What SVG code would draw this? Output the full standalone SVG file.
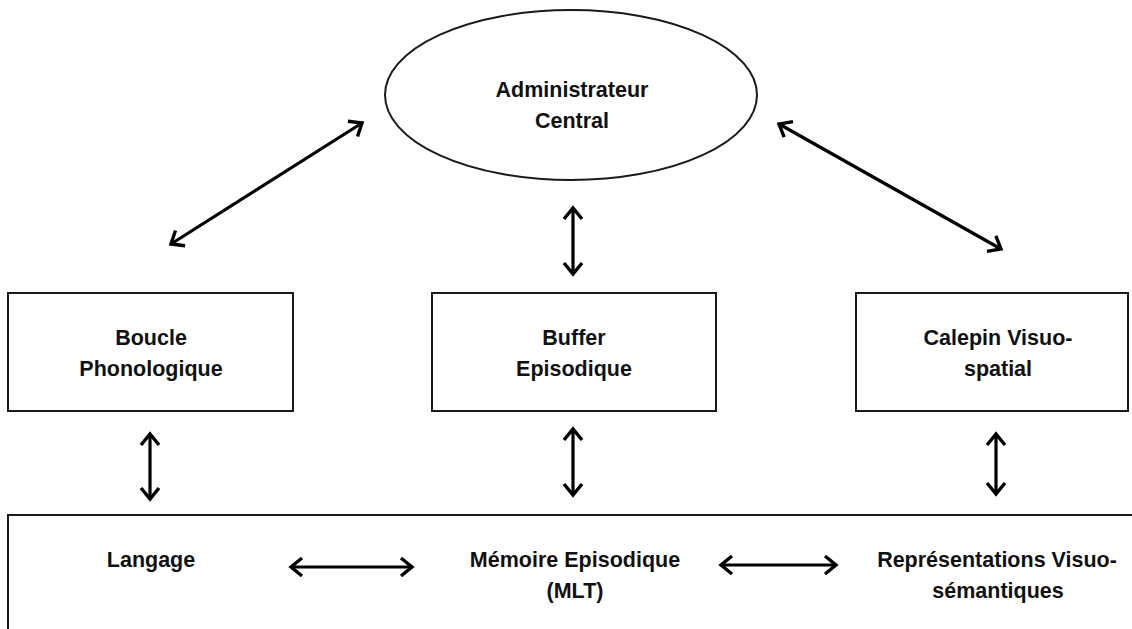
<svg xmlns="http://www.w3.org/2000/svg" width="1132" height="629" viewBox="0 0 1132 629">
<style>
.box{fill:#fff;stroke:#1a1a1a;stroke-width:2}
.lbl{font-family:"Liberation Sans",Arial,sans-serif;font-weight:bold;font-size:21.5px;fill:#111;text-anchor:middle}
.con{stroke:#000;stroke-width:3.2;fill:none;marker-start:url(#ah);marker-end:url(#ah)}
</style>
<defs>
<marker id="ah" markerUnits="userSpaceOnUse" viewBox="-15 -12 18 24" refX="0" refY="0" markerWidth="18" markerHeight="24" orient="auto-start-reverse">
<path d="M-11,-9 L0,0 L-11,9" fill="none" stroke="#000" stroke-width="3.4" stroke-linejoin="miter"/>
</marker>
</defs>
<rect width="1132" height="629" fill="#fff"/>
<g id="admin">
<ellipse class="box" cx="571" cy="95" rx="186" ry="85" stroke-width="1.6"/>
<text class="lbl" x="572" y="97">Administrateur</text>
<text class="lbl" x="572" y="128">Central</text>
</g>
<g id="boucle">
<rect class="box" x="8" y="293" width="285" height="118"/>
<text class="lbl" x="151" y="345">Boucle</text>
<text class="lbl" x="151" y="376">Phonologique</text>
</g>
<g id="buffer">
<rect class="box" x="432" y="293" width="284" height="118"/>
<text class="lbl" x="574" y="345">Buffer</text>
<text class="lbl" x="574" y="376">Episodique</text>
</g>
<g id="calepin">
<rect class="box" x="856" y="293" width="272" height="118"/>
<text class="lbl" x="998" y="345">Calepin Visuo-</text>
<text class="lbl" x="998" y="376">spatial</text>
</g>
<g id="mlt">
<rect class="box" x="8" y="515" width="1140" height="130"/>
<text class="lbl" x="151" y="567">Langage</text>
<text class="lbl" x="575" y="567">Mémoire Episodique</text>
<text class="lbl" x="575" y="598">(MLT)</text>
<text class="lbl" x="997" y="567">Représentations Visuo-</text>
<text class="lbl" x="998" y="598">sémantiques</text>
</g>
<g id="connectors">
<line class="con" x1="171" y1="244" x2="362" y2="123"/>
<line class="con" x1="779" y1="124" x2="1001" y2="249"/>
<line class="con" x1="573" y1="208" x2="573" y2="274"/>
<line class="con" x1="150" y1="434" x2="150" y2="499"/>
<line class="con" x1="573" y1="429" x2="573" y2="495"/>
<line class="con" x1="996" y1="434" x2="996" y2="494"/>
<line class="con" x1="291" y1="567" x2="412" y2="567"/>
<line class="con" x1="721" y1="565" x2="836" y2="565"/>
</g>
</svg>
